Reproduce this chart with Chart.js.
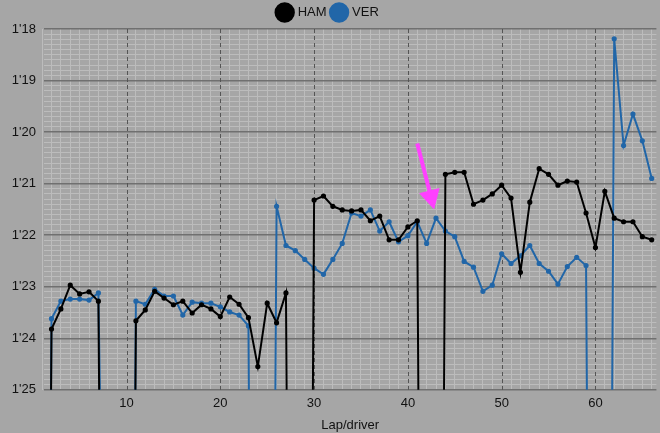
<!DOCTYPE html>
<html>
<head>
<meta charset="utf-8">
<script src="https://cdn.jsdelivr.net/npm/chart.js@4"></script>
<style>
  html, body { margin: 0; padding: 0; background: #a6a6a6; }
  #wrap { width: 660px; height: 433px; }
</style>
</head>
<body>
<div id="wrap"><canvas id="lapChart"></canvas></div>
<script>
// lap times in seconds; 100+ = off the chart (pit / out laps)
const laps = [];
for (let i = 1; i <= 66; i++) laps.push(i);

const ham = [110, 83.82, 83.43, 82.97, 83.14, 83.10, 83.28, 105, 110, 110,
  83.66, 83.45, 83.09, 83.22, 83.35, 83.28, 83.51, 83.35, 83.43, 83.58,
  83.20, 83.34, 83.60, 84.55, 83.32, 83.70, 83.12, 110, 110, 81.32,
  81.24, 81.44, 81.51, 81.53, 81.51, 81.72, 81.63, 82.09, 82.09, 81.84,
  81.72, 110, 110, 80.82, 80.78, 80.78, 81.40, 81.32, 81.20, 81.03,
  81.28, 82.72, 81.36, 80.71, 80.82, 81.03, 80.95, 80.97, 81.57, 82.24,
  81.15, 81.67, 81.74, 81.74, 82.03, 82.09];

const ver = [110, 83.62, 83.28, 83.24, 83.24, 83.26, 83.12, 95, 110, 110,
  83.28, 83.34, 83.05, 83.18, 83.18, 83.55, 83.30, 83.32, 83.32, 83.39,
  83.49, 83.55, 83.76, 110, 110, 81.44, 82.20, 82.30, 82.47, 82.64,
  82.76, 82.47, 82.16, 81.57, 81.63, 81.51, 81.92, 81.74, 82.13, 82.01,
  81.74, 82.16, 81.67, 81.92, 82.03, 82.51, 82.62, 83.09, 82.97, 82.36,
  82.55, 82.40, 82.20, 82.55, 82.70, 82.95, 82.61, 82.43, 82.59, 110,
  110, 78.19, 80.26, 79.65, 80.17, 80.90];

const majorLaps = [10, 20, 30, 40, 50, 60];
// pink arrow annotation: [lap, seconds] tail and head
const arrowFrom = [41.0, 80.22];
const arrowTo = [42.8, 81.50];

const colors = {
  ham: "#000000",
  ver: "#2166a8",
  minor: "#bcbcbc",
  major: "#707070",
  arrow: "#ff40ff",
};

const toPairs = (arr) => arr.map((v, i) => ({ x: laps[i], y: v }));

const overlay = {
  id: "overlay",
  beforeDatasetsDraw(chart) {
    const { ctx, chartArea: a, scales: { x } } = chart;
    ctx.save();
    ctx.strokeStyle = "#555";
    ctx.lineWidth = 1;
    ctx.setLineDash([4, 3]);
    majorLaps.forEach(l => {
      const px = Math.round(x.getPixelForValue(l)) + 0.5;
      ctx.beginPath();
      ctx.moveTo(px, a.top);
      ctx.lineTo(px, a.bottom);
      ctx.stroke();
    });
    ctx.restore();
  },
  afterDatasetsDraw(chart) {
    const { ctx, scales: { x, y } } = chart;
    const x1 = x.getPixelForValue(arrowFrom[0]), y1 = y.getPixelForValue(arrowFrom[1]);
    const x2 = x.getPixelForValue(arrowTo[0]), y2 = y.getPixelForValue(arrowTo[1]);
    const ang = Math.atan2(y2 - y1, x2 - x1);
    ctx.save();
    ctx.strokeStyle = colors.arrow;
    ctx.fillStyle = colors.arrow;
    ctx.lineWidth = 4;
    ctx.beginPath();
    ctx.moveTo(x1, y1);
    ctx.lineTo(x2 - 14 * Math.cos(ang), y2 - 14 * Math.sin(ang));
    ctx.stroke();
    ctx.beginPath();
    ctx.moveTo(x2, y2);
    ctx.lineTo(x2 - 22 * Math.cos(ang - 0.5), y2 - 22 * Math.sin(ang - 0.5));
    ctx.lineTo(x2 - 22 * Math.cos(ang + 0.5), y2 - 22 * Math.sin(ang + 0.5));
    ctx.closePath();
    ctx.fill();
    ctx.restore();
  }
};

const ds = (label, arr, color) => ({
  label,
  data: toPairs(arr),
  borderColor: color,
  backgroundColor: color,
  borderWidth: 2,
  pointRadius: 1.6,
  pointHoverRadius: 1.6,
  pointStyle: "circle",
  tension: 0,
});

new Chart(document.getElementById("lapChart"), {
  type: "line",
  data: { datasets: [ds("HAM", ham, colors.ham), ds("VER", ver, colors.ver)] },
  plugins: [overlay],
  options: {
    responsive: true,
    maintainAspectRatio: false,
    animation: false,
    layout: { padding: { right: 3, top: 0 } },
    plugins: {
      legend: {
        position: "top",
        labels: {
          usePointStyle: true,
          pointStyle: "circle",
          boxWidth: 13,
          boxHeight: 13,
          color: "#111",
          font: { family: "Liberation Sans", size: 13 },
          padding: 6,
        }
      },
      tooltip: { enabled: false },
    },
    scales: {
      x: {
        type: "linear",
        min: 1.2,
        max: 66.5,
        title: { display: true, text: "Lap/driver", color: "#111", font: { family: "Liberation Sans", size: 13 }, padding: 0 },
        afterBuildTicks(scale) {
          scale.ticks = laps.map(v => ({ value: v }));
        },
        ticks: {
          autoSkip: false,
          maxRotation: 0,
          padding: 6,
          color: "#111",
          font: { family: "Liberation Sans", size: 13 },
          callback: (v) => (v % 10 === 0 ? String(v) : ""),
        },
        grid: {
          color: (c) => (c.tick && c.tick.value % 10 === 0 ? "rgba(0,0,0,0)" : colors.minor),
          drawTicks: false,
        },
        border: { display: false },
      },
      y: {
        reverse: true,
        min: 78,
        max: 85,
        afterFit(scale) { scale.width = 44; },
        afterBuildTicks(scale) {
          const t = [];
          for (let i = 0; i <= 70; i++) t.push({ value: 78 + i / 10 });
          scale.ticks = t;
        },
        ticks: {
          autoSkip: false,
          padding: 8,
          color: "#111",
          font: { family: "Liberation Sans", size: 13 },
          callback: (v) => {
            const r = Math.round(v * 10);
            return r % 10 === 0 ? "1'" + (r / 10 - 60) : "";
          },
        },
        grid: {
          color: (c) => (c.tick && Math.round(c.tick.value * 10) % 10 === 0 ? colors.major : colors.minor),
          lineWidth: (c) => (c.tick && Math.round(c.tick.value * 10) % 10 === 0 ? 1.5 : 1),
          drawTicks: false,
        },
        border: { display: false },
      },
    },
  },
});
</script>
</body>
</html>
